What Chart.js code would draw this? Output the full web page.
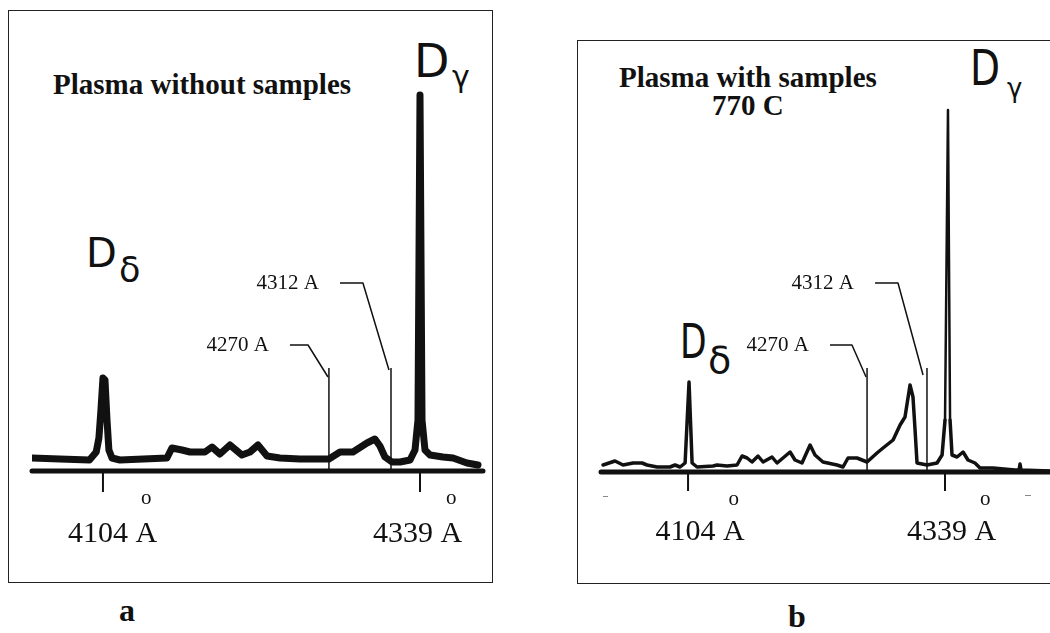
<!DOCTYPE html>
<html><head><meta charset="utf-8">
<script src="https://cdn.jsdelivr.net/npm/chart.js@4"></script>
<style>
body{margin:0;background:#fff;width:1050px;height:633px;overflow:hidden;position:relative;font-family:'Liberation Serif','Times New Roman',serif}
canvas{position:absolute;left:0;top:0}
.box{position:absolute;border:1.5px solid #222;box-sizing:border-box}
.t{position:absolute;white-space:nowrap;line-height:1;color:#111}
.b{font-weight:bold}
.h{font-family:'DejaVu Sans',sans-serif;transform-origin:left bottom}
.dash{position:absolute;height:1px;background:#888}
</style></head><body>
<div class="box" style="left:8px;top:10px;width:485px;height:573px"></div>
<div class="box" style="left:577px;top:40px;width:480px;height:544px"></div>

<div class="t b" style="font-size:29px;left:53px;top:69.7px">Plasma without samples</div>
<div class="t b" style="font-size:29px;left:619px;top:62.7px">Plasma with samples</div>
<div class="t b" style="font-size:29px;left:712px;top:90.7px">770 C</div>
<div class="t b" style="font-size:32px;left:119px;top:594px">a</div>
<div class="t b" style="font-size:32px;left:788px;top:600px">b</div>

<div class="t h" style="font-size:46px;left:414px;top:38.4px">D</div>
<div class="t h" style="font-size:30px;left:452px;top:61.8px">γ</div>
<div class="t h" style="font-size:40px;left:86px;top:233.4px">D</div>
<div class="t h" style="font-size:35px;left:119px;top:252.6px">δ</div>
<div class="t h" style="font-size:50px;left:970px;top:43px;transform:scaleX(0.78)">D</div>
<div class="t h" style="font-size:26px;left:1007px;top:75px">γ</div>
<div class="t h" style="font-size:48px;left:680px;top:316.7px;transform:scaleX(0.72)">D</div>
<div class="t h" style="font-size:38px;left:708px;top:341px">δ</div>

<div class="dash" style="left:603px;top:496px;width:5px"></div>
<div class="dash" style="left:1025px;top:495px;width:6px"></div>

<canvas id="ca" width="1050" height="633"></canvas>
<canvas id="cb" width="1050" height="633"></canvas>
<script>
// ---- data (wavelength in Angstrom, intensity in arbitrary units) ----
const tickValues = [4104, 4339];
const tickLabels = ['4104 A', '4339 A'];
const markerLabels = ['4270 A', '4312 A'];

// Panel a: plasma without samples
const aWave = [4051,4072,4094,4099,4101,4102.5,4104,4105.5,4107,4108.4,4110.7,4116.6,4151.4,4155.1,4162.6,4168.5,4173.7,4179.6,4184.8,4190.7,4198.1,4207,4213,4218.9,4225.6,4235.2,4250,4271.5,4279.7,4289.3,4299.7,4305.6,4309.3,4313,4318.2,4324.2,4331.6,4335.3,4337.5,4339,4340.5,4342.7,4346.4,4356,4363.5,4373.8,4382];
const aInt  = [13,12,11,19,33,61,93,91,51,21,13,11,13,23,21,19,19,19,24,17,26,16,19,26,15,13,12,12,19,19,28,32,25,14,9,9,11,21,51,376,51,21,16,14,13,8,6];
const aMarkerWave = [4271.5, 4317.5];
const aMarkerTop = 103;
const aLeader4270Wave = [4242.6, 4256, 4270.8];
const aLeader4270Int  = [126, 126, 94];
const aLeader4312Wave = [4279.7, 4296.7, 4316];
const aLeader4312Int  = [188, 188, 101];

// Panel b: plasma with samples, 770 C
const bWave = [4026.3,4037.2,4044.6,4053.7,4061.9,4066.5,4075.7,4087.5,4092.1,4096.7,4101.3,4104.9,4107.7,4112.2,4126.9,4130.5,4139.7,4148.8,4153.4,4158,4162.5,4168,4172.6,4180.8,4185.4,4197.3,4201.8,4208.2,4215.6,4220.1,4227.4,4240.2,4245.7,4250.3,4258.5,4267.7,4276.8,4282.3,4291.5,4297.9,4302.4,4307,4309.7,4311.6,4313.4,4322.5,4331.7,4336.3,4339,4341.7,4343.6,4345.4,4350,4355.5,4360,4366.4,4371,4382.9,4403,4406.7,4407.6,4408.5,4435];
const bInt  = [7,11,7,9,9,7,5,5,7,5,9,90,9,5,6,7,6,7,16,14,10,16,10,15,9,20,12,9,27,17,10,7,5,14,14,10,19,24,32,47,55,87,75,42,9,7,9,17,52,362,52,17,15,20,12,9,4,4,2,2,8,2,1];
const bMarkerWave = [4267.7, 4322.5];
const bMarkerTop = 104;
const bLeader4270Wave = [4233.8, 4253.9, 4266.8];
const bLeader4270Int  = [127, 127, 95];
const bLeader4312Wave = [4275, 4296, 4318.9];
const bLeader4312Int  = [189, 189, 97];

// ---- helpers ----
const pts = (xs, ys) => xs.map((x, i) => ({x, y: ys[i]}));
const INK = '#111';

const figPlugin = {
  id: 'fig',
  beforeDatasetsDraw(chart, args, o) {
    const {ctx, chartArea: ca, scales: {x, y}} = chart;
    const y0 = y.getPixelForValue(0);
    ctx.save();
    ctx.strokeStyle = INK; ctx.lineCap = 'round';
    ctx.lineWidth = 5;
    ctx.beginPath(); ctx.moveTo(ca.left, y0); ctx.lineTo(ca.right, y0); ctx.stroke();
    ctx.lineWidth = 2; ctx.lineCap = 'butt';
    tickValues.forEach(v => {
      const px = x.getPixelForValue(v);
      ctx.beginPath(); ctx.moveTo(px, y0); ctx.lineTo(px, y0 + o.tickLen); ctx.stroke();
    });
    ctx.restore();
  },
  afterDatasetsDraw(chart, args, o) {
    const {ctx, scales: {x, y}} = chart;
    const y0 = y.getPixelForValue(0);
    ctx.save();
    ctx.fillStyle = INK;
    ctx.textBaseline = 'alphabetic';
    // tick labels with ring above the A
    tickValues.forEach((v, i) => {
      const px = x.getPixelForValue(v) + o.labelShift[i];
      ctx.font = '30px "Liberation Serif", serif';
      ctx.textAlign = 'center';
      const w = ctx.measureText(tickLabels[i]).width;
      ctx.fillText(tickLabels[i], px, y0 + o.labelDy);
      const aw = ctx.measureText('A').width;
      const ringX = px + w / 2 - aw / 2;
      ctx.font = '21px "Liberation Serif", serif';
      ctx.fillText('o', ringX, y0 + o.ringDy);
    });
    // marker labels at the start of each leader line
    ctx.font = '21px "Liberation Serif", serif';
    ctx.textAlign = 'right';
    o.leaders.forEach((L, i) => {
      const lx = x.getPixelForValue(L[0][0]);
      const ly = y.getPixelForValue(L[1][0]);
      ctx.fillText(markerLabels[i], lx - 21, ly + 6);
    });
    ctx.restore();
  }
};

function build(id, wave, inten, markers, mTop, leaders, lw, xmin, xmax, pad, opt, seg) {
  const ds = [{
    data: pts(wave, inten), borderColor: INK, borderWidth: lw, pointRadius: 0,
    tension: 0, borderJoinStyle: 'round', borderCapStyle: 'round', fill: false,
    segment: seg || {}
  }];
  markers.forEach(m => ds.push({
    data: pts([m, m], [0, mTop]), borderColor: INK, borderWidth: 1.5, pointRadius: 0, fill: false
  }));
  leaders.forEach(L => ds.push({
    data: pts(L[0], L[1]), borderColor: INK, borderWidth: 1.5, pointRadius: 0, fill: false, tension: 0
  }));
  return new Chart(document.getElementById(id), {
    type: 'line',
    data: {datasets: ds},
    options: {
      responsive: false, animation: false, devicePixelRatio: 1,
      layout: {padding: pad},
      scales: {
        x: {type: 'linear', min: xmin, max: xmax, display: false},
        y: {min: 0, max: 400, display: false}
      },
      plugins: {legend: {display: false}, tooltip: {enabled: false},
        fig: Object.assign({leaders}, opt)},
      elements: {line: {borderJoinStyle: 'round'}}
    },
    plugins: [figPlugin]
  });
}

build('ca', aWave, aInt, aMarkerWave, aMarkerTop,
  [[aLeader4270Wave, aLeader4270Int], [aLeader4312Wave, aLeader4312Int]],
  7, 4051.4, 4385.7, {left: 32, right: 567, top: 71, bottom: 162},
  {tickLen: 21, labelDy: 71, ringDy: 33, labelShift: [9.5, -2.5]});

build('cb', bWave, bInt, bMarkerWave, bMarkerTop,
  [[bLeader4270Wave, bLeader4270Int], [bLeader4312Wave, bLeader4312Int]],
  3.5, 4024.4, 4435.0, {left: 601, right: 0, top: 72, bottom: 161},
  {tickLen: 19, labelDy: 68, ringDy: 33, labelShift: [12, 6.5]},
  {borderWidth: c => (c.p0.parsed.x >= 4339 && c.p1.parsed.x <= 4343.6) ? 2.5 : undefined});
</script>
</body></html>
